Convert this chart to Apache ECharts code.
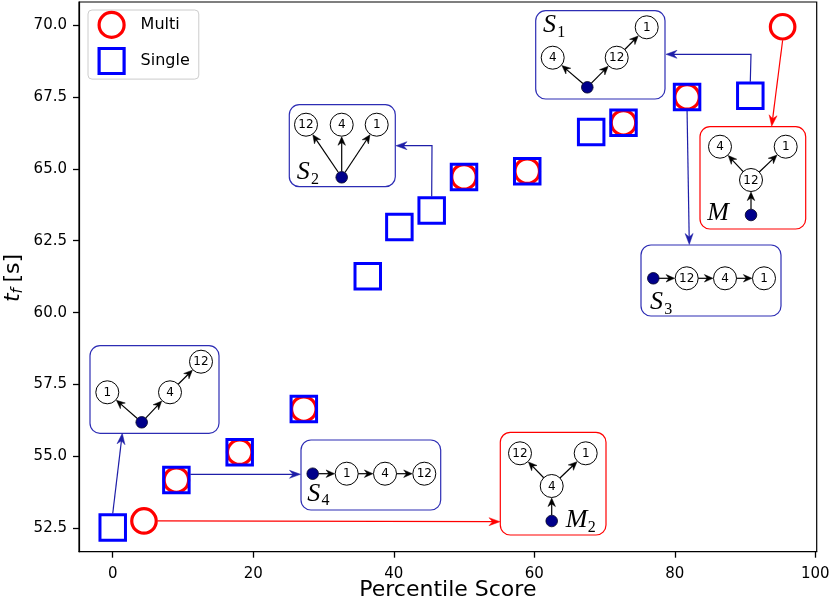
<!DOCTYPE html>
<html><head><meta charset="utf-8">
<script src="https://cdn.jsdelivr.net/npm/echarts@6/dist/echarts.min.js"></script>
<style>html,body{margin:0;padding:0;background:#fff}#c{width:830px;height:607px}</style>
</head><body><div id="c"></div>
<script>
// ---- data ----
const singleX = [0, 9.06, 18.07, 27.2, 36.3, 40.8, 45.4, 50.0, 59.0, 68.1, 72.7, 81.75, 90.75];
const singleY = [52.53, 54.18, 55.15, 56.65, 61.27, 62.98, 63.55, 64.72, 64.92, 66.28, 66.6, 67.5, 67.54];
const multiX = [4.45, 9.06, 18.07, 27.2, 50.0, 59.0, 72.7, 81.75, 95.35];
const multiY = [52.76, 54.18, 55.15, 56.65, 64.72, 64.92, 66.6, 67.5, 69.94];
const xTicks = [0, 20, 40, 60, 80, 100];
const yTicks = [52.5, 55.0, 57.5, 60.0, 62.5, 65.0, 67.5, 70.0];
const seriesNames = ['Multi', 'Single'];

const BLUE = '#0000ff', RED = '#ff0000', BOXBLUE = '#2d2db4', ARROWBLUE = '#1e1ea8', NAVY = '#00008b';

const chart = echarts.init(document.getElementById('c'));
const axisLineStyle = {show: true, onZero: false, lineStyle: {color: '#000', width: 1.2}};
const option = {
  animation: false,
  grid: {left: 79, right: 13.3, top: 2, bottom: 55.3, containLabel: false, outerBoundsMode: 'none',
    show: true, borderColor: '#000', borderWidth: 1.2, backgroundColor: 'transparent'},
  xAxis: {
    type: 'value', min: -4.8, max: 100.2,
    axisLine: axisLineStyle, splitLine: {show: false},
    axisTick: {show: true, inside: false, customValues: xTicks, length: 6, lineStyle: {color: '#000', width: 1.3}},
    axisLabel: {customValues: xTicks, margin: 15, color: '#000', fontSize: 15, fontFamily: 'DejaVu Sans'},
    name: 'Percentile Score', nameLocation: 'middle', nameGap: 28, nameMoveOverlap: false,
    nameTextStyle: {fontSize: 22, fontFamily: 'DejaVu Sans', color: '#000'}
  },
  yAxis: {
    type: 'value', min: 51.69, max: 70.8,
    axisLine: axisLineStyle, splitLine: {show: false},
    axisTick: {show: true, inside: false, customValues: yTicks, length: 6, lineStyle: {color: '#000', width: 1.3}},
    axisLabel: {customValues: yTicks, margin: 12, color: '#000', fontSize: 15, fontFamily: 'DejaVu Sans',
      formatter: v => Number(v).toFixed(1)}
  },
  legend: {
    orient: 'vertical', left: 88, top: 10, itemWidth: 25, itemHeight: 25, itemGap: 7.9,
    padding: [0.8, 9, 4, 9.5], backgroundColor: 'rgba(255,255,255,0.85)', borderColor: '#cccccc',
    borderWidth: 1, borderRadius: 4, selectedMode: false,
    itemStyle: {borderWidth: 3.2, opacity: 1},
    textStyle: {fontSize: 16, fontFamily: 'DejaVu Sans', color: '#000', padding: [0, 0, 0, 11.5]},
    data: [{name: seriesNames[0], icon: 'circle'}, {name: seriesNames[1], icon: 'rect'}]
  },
  series: [
    {name: seriesNames[0], type: 'scatter', silent: true, z: 2,
      data: multiX.map((x, i) => [x, multiY[i]]), symbol: 'circle', symbolSize: 24.5,
      itemStyle: {color: 'transparent', borderColor: RED, borderWidth: 3.2, opacity: 1}},
    {name: seriesNames[1], type: 'scatter', silent: true, z: 3,
      data: singleX.map((x, i) => [x, singleY[i]]), symbol: 'rect', symbolSize: 25.5,
      itemStyle: {color: 'transparent', borderColor: BLUE, borderWidth: 3, opacity: 1}}
  ]
};
chart.setOption(option);

// ---- annotation insets (pixel layout) ----
const insets = [
  {box: [90, 345.7, 219, 433.3], color: BOXBLUE,
   nodes: {r: [141.7, 422.3], '1': [107.3, 392.3], '4': [170, 392.3], '12': [201, 361.7]},
   edges: [['r', '1'], ['r', '4'], ['4', '12']], label: null},
  {box: [301, 440, 440.7, 510], color: BOXBLUE,
   nodes: {r: [312.7, 473.7], '1': [346.7, 473.7], '4': [385, 473.7], '12': [424.3, 473.7]},
   edges: [['r', '1'], ['1', '4'], ['4', '12']], label: ['S', '4', 308.3, 501.7]},
  {box: [289.3, 104.7, 395.3, 186.7], color: BOXBLUE,
   nodes: {r: [341.7, 177.3], '12': [306, 124.7], '4': [341.7, 124.7], '1': [376.7, 124.7]},
   edges: [['r', '12'], ['r', '4'], ['r', '1']], label: ['S', '2', 297.7, 180]},
  {box: [535.7, 10.7, 665, 99], color: BOXBLUE,
   nodes: {r: [587.3, 87.3], '4': [552.7, 57.7], '12': [616.7, 57.7], '1': [646.7, 27.3]},
   edges: [['r', '4'], ['r', '12'], ['12', '1']], label: ['S', '1', 544, 33.3]},
  {box: [641, 245, 781, 316], color: BOXBLUE,
   nodes: {r: [653.3, 278.3], '12': [686.7, 278.3], '4': [725, 278.3], '1': [764, 278.3]},
   edges: [['r', '12'], ['12', '4'], ['4', '1']], label: ['S', '3', 651, 310]},
  {box: [700, 126.7, 805.7, 229], color: RED,
   nodes: {r: [751, 215], '12': [751, 180], '4': [720, 146.7], '1': [785.7, 146.7]},
   edges: [['r', '12'], ['12', '4'], ['12', '1']], label: ['M', '', 708.3, 220.7]},
  {box: [500.3, 432.3, 606, 535], color: RED,
   nodes: {r: [551.7, 521], '4': [551.7, 486], '12': [520, 453.3], '1': [585.7, 453.3]},
   edges: [['r', '4'], ['4', '12'], ['4', '1']], label: ['M', '2', 566.7, 528.3]}
];

// connectors: start at a data point (+ offset), then through pixel waypoints
const connectors = [
  {x: singleX[0], y: singleY[0], off: [0, -14], pts: [[122.3, 433.3]], color: ARROWBLUE},
  {x: singleX[1], y: singleY[1], off: [14, -5.7], pts: [[300.5, 474.3]], color: ARROWBLUE},
  {x: multiX[0], y: multiY[0], off: [13.5, 0], pts: [[500, 521.7]], color: RED},
  {x: singleX[6], y: singleY[6], off: [0, -14], pts: [[432, 145.7], [396, 145.7]], color: ARROWBLUE},
  {x: singleX[12], y: singleY[12], off: [0, -14], pts: [[751, 54.3], [666, 54.3]], color: ARROWBLUE},
  {x: singleX[11], y: singleY[11], off: [0, 14], pts: [[689.3, 244.5]], color: ARROWBLUE},
  {x: multiX[8], y: multiY[8], off: [0, 13.5], pts: [[771.7, 126.2]], color: RED}
];

const G = [];
const Z = 50;
function unit(a, b) { const dx = b[0] - a[0], dy = b[1] - a[1]; const l = Math.hypot(dx, dy); return [dx / l, dy / l]; }
function head(tip, d, L, W, color) {
  const n = [-d[1], d[0]];
  const b = [tip[0] - d[0] * L, tip[1] - d[1] * L];
  const notch = [tip[0] - d[0] * L * 0.68, tip[1] - d[1] * L * 0.68];
  return {type: 'polygon', z: Z + 3, silent: true,
    shape: {points: [tip, [b[0] + n[0] * W / 2, b[1] + n[1] * W / 2], notch, [b[0] - n[0] * W / 2, b[1] - n[1] * W / 2]]},
    style: {fill: color, stroke: color, lineWidth: 0.5}};
}
function arrow(pts, color, L, W, lw) {
  const a = pts[pts.length - 2], b = pts[pts.length - 1];
  const d = unit(a, b);
  const lp = pts.slice(0, -1).concat([[b[0] - d[0] * L * 0.6, b[1] - d[1] * L * 0.6]]);
  G.push({type: 'polyline', z: Z + 2, silent: true, shape: {points: lp}, style: {stroke: color, lineWidth: lw, fill: null}});
  G.push(head(b, d, L, W, color));
}
function txt(x, y, text, font, align, extra) {
  return Object.assign({type: 'text', x: x, y: y, z: Z + 4, silent: true,
    style: {text: text, font: font, fill: '#000', align: align, textAlign: align, verticalAlign: 'middle', textVerticalAlign: 'middle'}}, extra || {});
}

connectors.forEach(c => {
  const p = chart.convertToPixel({gridIndex: 0}, [c.x, c.y]);
  const start = [p[0] + c.off[0], p[1] + c.off[1]];
  arrow([start].concat(c.pts), c.color, 11, 8, 1.2);
});

const NR = 11.5, RR = 5.8;
insets.forEach(ins => {
  const [x0, y0, x1, y1] = ins.box;
  G.push({type: 'rect', z: Z, silent: true, shape: {x: x0, y: y0, width: x1 - x0, height: y1 - y0, r: 10},
    style: {fill: '#fff', stroke: ins.color, lineWidth: 1.2}});
  ins.edges.forEach(([a, b]) => {
    const pa = ins.nodes[a], pb = ins.nodes[b];
    const d = unit(pa, pb);
    const ra = a === 'r' ? RR : NR;
    const s = [pa[0] + d[0] * ra, pa[1] + d[1] * ra];
    const t = [pb[0] - d[0] * (NR + 0.6), pb[1] - d[1] * (NR + 0.6)];
    arrow([s, t], '#000', 8.5, 7.5, 1.2);
  });
  Object.keys(ins.nodes).forEach(k => {
    const p = ins.nodes[k];
    if (k === 'r') {
      G.push({type: 'circle', z: Z + 5, silent: true, shape: {cx: p[0], cy: p[1], r: RR}, style: {fill: NAVY, stroke: '#000022', lineWidth: 0.8}});
    } else {
      G.push({type: 'circle', z: Z + 1, silent: true, shape: {cx: p[0], cy: p[1], r: NR}, style: {fill: '#fff', stroke: '#000', lineWidth: 1}});
      G.push(txt(p[0], p[1] + 0.5, k, '12px "DejaVu Sans"', 'center'));
    }
  });
  if (ins.label) {
    const [m, sub, lx, base] = ins.label;
    G.push(txt(lx - 1, base - 8, m, 'italic 26px "Liberation Serif"', 'left'));
    if (sub) G.push(txt(lx + (m === 'S' ? 13.3 : 21), base - 0.5, sub, '16px "Liberation Serif"', 'left'));
  }
});

// y-axis title t_f [s], rotated
G.push({type: 'group', x: 13, y: 277, rotation: Math.PI / 2, z: Z, children: [
  txt(-25, 0, 't', 'italic 22px "DejaVu Sans"', 'left'),
  txt(-16.5, 5, 'f', 'italic 15px "DejaVu Sans"', 'left'),
  txt(-5.5, 0, '[s]', '22px "DejaVu Sans"', 'left')
]});

chart.setOption({graphic: {elements: G}});
</script>
</body></html>
